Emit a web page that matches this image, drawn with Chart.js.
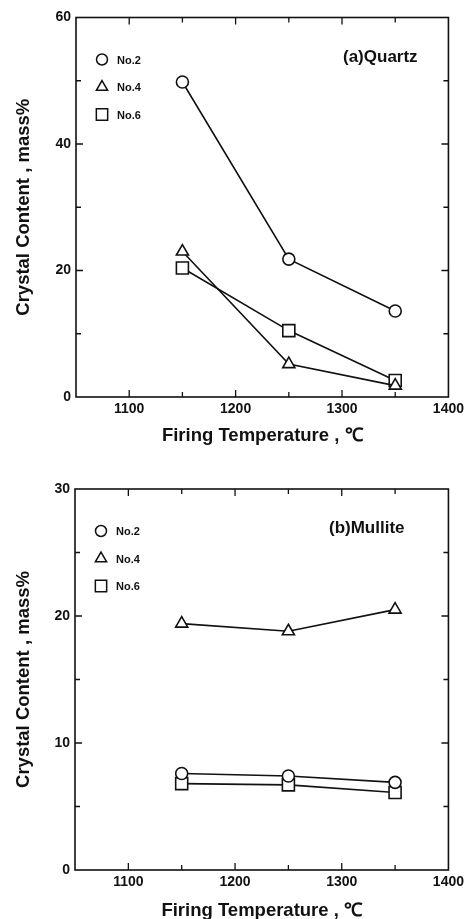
<!DOCTYPE html>
<html>
<head>
<meta charset="utf-8">
<script src="https://cdn.jsdelivr.net/npm/chart.js@4"></script>
<style>
  html, body { margin: 0; padding: 0; background: #fff; overflow: hidden; }
  .panel { position: absolute; left: 0; width: 468px; }
  #quartzPanel { top: 0; height: 450px; }
  #mullitePanel { top: 450px; height: 475px; }
</style>
</head>
<body>
<div class="panel" id="quartzPanel"><canvas id="quartz" width="468" height="450"></canvas></div>
<div class="panel" id="mullitePanel"><canvas id="mullite" width="468" height="475"></canvas></div>
<script>
// firing temperatures (°C) and crystal content (mass%)
const temps = [1150, 1250, 1350];
const seriesNames = ['No.2', 'No.4', 'No.6'];

const quartzNo2 = [49.8, 21.8, 13.6];
const quartzNo4 = [23.0, 5.2, 1.8];
const quartzNo6 = [20.4, 10.5, 2.6];

const mulliteNo2 = [7.6, 7.4, 6.9];
const mulliteNo4 = [19.4, 18.8, 20.5];
const mulliteNo6 = [6.8, 6.7, 6.1];

const xTicks = [1100, 1200, 1300, 1400];
const xMinor = [1150, 1250, 1350];
const quartzYTicks = [0, 20, 40, 60];
const quartzYMinor = [10, 30, 50];
const mulliteYTicks = [0, 10, 20, 30];
const mulliteYMinor = [5, 15, 25];

const FONT = "'Liberation Sans', Arial, Helvetica, sans-serif";
const INK = '#111';

const markers = [
  { style: 'circle', radius: 6 },
  { style: 'triangle', radius: 7 },
  { style: 'rect', radius: 8.5 },
];

function makeDatasets(lists) {
  return lists.map((vals, i) => ({
    label: seriesNames[i],
    data: vals.map((v, k) => ({ x: temps[k], y: v })),
    borderColor: INK, borderWidth: 1.6,
    pointStyle: markers[i].style, pointRadius: markers[i].radius,
    pointBorderWidth: 1.6, pointBackgroundColor: '#fff', pointBorderColor: INK,
    tension: 0, fill: false,
  }));
}

// frame, inward ticks on all four sides, legend and panel caption
const framePlugin = {
  id: 'frame',
  afterDraw(chart, args, opts) {
    const { ctx, chartArea: a, scales: { x, y } } = chart;
    ctx.save();
    ctx.strokeStyle = INK;
    ctx.lineWidth = 1.6;
    ctx.strokeRect(a.left, a.top, a.right - a.left, a.bottom - a.top);

    ctx.lineWidth = 1.3;
    const tick = (vals, len) => {
      vals.forEach((v) => {
        const px = x.getPixelForValue(v);
        if (px > a.left + 1 && px < a.right - 1) {
          ctx.beginPath();
          ctx.moveTo(px, a.bottom); ctx.lineTo(px, a.bottom - len);
          ctx.moveTo(px, a.top); ctx.lineTo(px, a.top + len);
          ctx.stroke();
        }
      });
    };
    const ytick = (vals, len) => {
      vals.forEach((v) => {
        const py = y.getPixelForValue(v);
        if (py > a.top + 1 && py < a.bottom - 1) {
          ctx.beginPath();
          ctx.moveTo(a.left, py); ctx.lineTo(a.left + len, py);
          ctx.moveTo(a.right, py); ctx.lineTo(a.right - len, py);
          ctx.stroke();
        }
      });
    };
    tick(xTicks, 7); tick(xMinor, 5);
    ytick(opts.yTicks, 7); ytick(opts.yMinor, 5);

    // legend
    chart.data.datasets.forEach((ds, i) => {
      const cy = a.top + 42 + i * 27.5;
      const cx = a.left + 26;
      ctx.lineWidth = 1.5;
      ctx.fillStyle = '#fff';
      Chart.helpers.drawPoint(ctx, { pointStyle: ds.pointStyle, radius: ds.pointRadius - 0.5, rotation: 0, borderWidth: 1.5 }, cx, cy);
      ctx.fillStyle = INK;
      ctx.font = `bold 11px ${FONT}`;
      ctx.textAlign = 'left';
      ctx.textBaseline = 'middle';
      ctx.fillText(ds.label, cx + 15, cy + 1);
    });

    // caption
    ctx.font = `bold 17px ${FONT}`;
    ctx.textAlign = 'left';
    ctx.textBaseline = 'middle';
    ctx.fillText(opts.caption, a.left + opts.captionDx, a.top + 39.5);
    ctx.restore();
  },
};

function build(id, lists, cfg) {
  return new Chart(document.getElementById(id), {
    type: 'line',
    data: { datasets: makeDatasets(lists) },
    plugins: [framePlugin],
    options: {
      responsive: false, animation: false,
      layout: { padding: { top: cfg.top, right: 18, left: 0, bottom: 0 } },
      plugins: {
        legend: { display: false }, tooltip: { enabled: false },
        frame: { yTicks: cfg.yTicks, yMinor: cfg.yMinor, caption: cfg.caption, captionDx: cfg.captionDx },
      },
      scales: {
        x: {
          type: 'linear', min: 1050, max: 1400,
          afterBuildTicks: (s) => { s.ticks = xTicks.map((v) => ({ value: v })); },
          afterFit: (s) => { s.height = cfg.xHeight; },
          grid: { display: false, drawTicks: false }, border: { display: false },
          ticks: { color: INK, padding: 4, maxRotation: 0, callback: (v) => String(v),
                   font: { family: FONT, size: 14, weight: 'bold' } },
          title: { display: true, text: 'Firing Temperature , ℃', color: INK, padding: { top: 0, bottom: 2.5 },
                   font: { family: FONT, size: 18.5, weight: 'bold' } },
        },
        y: {
          min: 0, max: cfg.yMax,
          afterBuildTicks: (s) => { s.ticks = cfg.yTicks.map((v) => ({ value: v })); },
          afterFit: (s) => { s.width = cfg.yWidth; },
          grid: { display: false, drawTicks: false }, border: { display: false },
          ticks: { color: INK, padding: 5, callback: (v) => String(v),
                   font: { family: FONT, size: 14, weight: 'bold' } },
          title: { display: true, text: 'Crystal Content , mass%', color: INK, padding: { top: 13, bottom: 0 },
                   font: { family: FONT, size: 18.5, weight: 'bold' } },
        },
      },
    },
  });
}

build('quartz', [quartzNo2, quartzNo4, quartzNo6], {
  top: 17.5, xHeight: 53, yWidth: 76, yMax: 60,
  yTicks: quartzYTicks, yMinor: quartzYMinor, caption: '(a)Quartz', captionDx: 267,
});
build('mullite', [mulliteNo2, mulliteNo4, mulliteNo6], {
  top: 39, xHeight: 55, yWidth: 75, yMax: 30,
  yTicks: mulliteYTicks, yMinor: mulliteYMinor, caption: '(b)Mullite', captionDx: 254,
});
</script>
</body>
</html>
